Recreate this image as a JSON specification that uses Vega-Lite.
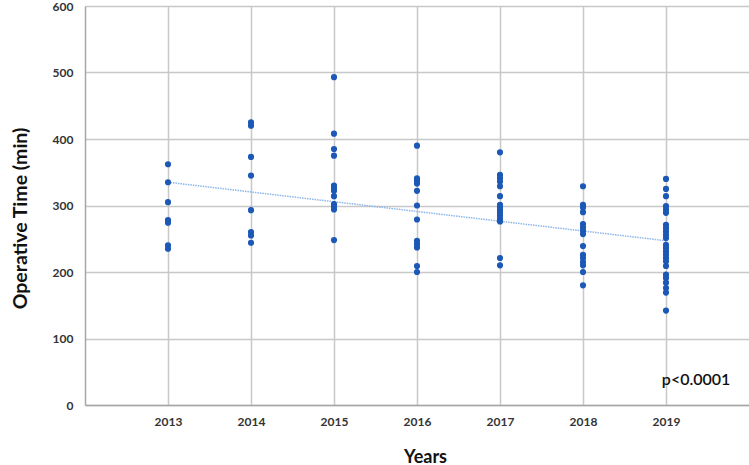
{
  "$schema": "https://vega.github.io/schema/vega-lite/v6.json",
  "width": 664,
  "height": 399,
  "autosize": "none",
  "padding": {"left": 85, "top": 6, "right": 0, "bottom": 60},
  "background": "white",
  "config": {
    "view": {"stroke": null},
    "font": "Lato",
    "axis": {
      "gridColor": "#c8c8c8",
      "gridWidth": 1.5,
      "domainColor": "#a6a6a6",
      "domainWidth": 1.5,
      "ticks": false,
      "labelColor": "#333333",
      "labelFont": "Lato",
      "labelFontSize": 12,
      "labelFontWeight": "bold",
      "titleFont": "Lato",
      "titleFontSize": 18,
      "titleFontWeight": "bold",
      "titleColor": "#111111"
    }
  },
  "datasets": {
    "points": [
      {"year": 2013, "time": 362}, {"year": 2013, "time": 335}, {"year": 2013, "time": 305}, {"year": 2013, "time": 278}, {"year": 2013, "time": 274}, {"year": 2013, "time": 240}, {"year": 2013, "time": 235},
      {"year": 2014, "time": 425}, {"year": 2014, "time": 420}, {"year": 2014, "time": 373}, {"year": 2014, "time": 345}, {"year": 2014, "time": 293}, {"year": 2014, "time": 260}, {"year": 2014, "time": 255}, {"year": 2014, "time": 244},
      {"year": 2015, "time": 493}, {"year": 2015, "time": 408}, {"year": 2015, "time": 385}, {"year": 2015, "time": 375}, {"year": 2015, "time": 330}, {"year": 2015, "time": 326}, {"year": 2015, "time": 322}, {"year": 2015, "time": 314}, {"year": 2015, "time": 302}, {"year": 2015, "time": 298}, {"year": 2015, "time": 294}, {"year": 2015, "time": 248},
      {"year": 2016, "time": 390}, {"year": 2016, "time": 341}, {"year": 2016, "time": 337}, {"year": 2016, "time": 333}, {"year": 2016, "time": 322}, {"year": 2016, "time": 300}, {"year": 2016, "time": 279}, {"year": 2016, "time": 247}, {"year": 2016, "time": 242}, {"year": 2016, "time": 237}, {"year": 2016, "time": 209}, {"year": 2016, "time": 200},
      {"year": 2017, "time": 380}, {"year": 2017, "time": 346}, {"year": 2017, "time": 341}, {"year": 2017, "time": 336}, {"year": 2017, "time": 329}, {"year": 2017, "time": 314}, {"year": 2017, "time": 301}, {"year": 2017, "time": 297}, {"year": 2017, "time": 293}, {"year": 2017, "time": 289}, {"year": 2017, "time": 285}, {"year": 2017, "time": 280}, {"year": 2017, "time": 276}, {"year": 2017, "time": 221}, {"year": 2017, "time": 210},
      {"year": 2018, "time": 329}, {"year": 2018, "time": 301}, {"year": 2018, "time": 297}, {"year": 2018, "time": 290}, {"year": 2018, "time": 272}, {"year": 2018, "time": 267}, {"year": 2018, "time": 262}, {"year": 2018, "time": 257}, {"year": 2018, "time": 239}, {"year": 2018, "time": 226}, {"year": 2018, "time": 221}, {"year": 2018, "time": 215}, {"year": 2018, "time": 210}, {"year": 2018, "time": 200}, {"year": 2018, "time": 180},
      {"year": 2019, "time": 340}, {"year": 2019, "time": 325}, {"year": 2019, "time": 314}, {"year": 2019, "time": 299}, {"year": 2019, "time": 294}, {"year": 2019, "time": 289}, {"year": 2019, "time": 271}, {"year": 2019, "time": 266}, {"year": 2019, "time": 261}, {"year": 2019, "time": 256}, {"year": 2019, "time": 251}, {"year": 2019, "time": 241}, {"year": 2019, "time": 236}, {"year": 2019, "time": 231}, {"year": 2019, "time": 226}, {"year": 2019, "time": 221}, {"year": 2019, "time": 216}, {"year": 2019, "time": 209}, {"year": 2019, "time": 196}, {"year": 2019, "time": 191}, {"year": 2019, "time": 184}, {"year": 2019, "time": 176}, {"year": 2019, "time": 169}, {"year": 2019, "time": 142}
    ],
    "fit": [
      {"year": 2013, "time": 335},
      {"year": 2019, "time": 247}
    ],
    "note": [
      {"year": 2018.95, "time": 30, "label": "p<0.0001"}
    ]
  },
  "layer": [
    {
      "data": {"name": "fit"},
      "mark": {"type": "line", "color": "#8db6ea", "strokeWidth": 1.5, "strokeDash": [1.5, 1]},
      "encoding": {
        "x": {
          "field": "year", "type": "quantitative",
          "scale": {"domain": [2012, 2020], "nice": false, "zero": false},
          "axis": {
            "values": [2013, 2014, 2015, 2016, 2017, 2018, 2019],
            "format": "d",
            "title": "Years",
            "labelPadding": 11,
            "titleX": 340,
            "titleY": 57,
            "titleBaseline": "alphabetic"
          }
        },
        "y": {
          "field": "time", "type": "quantitative",
          "scale": {"domain": [0, 600], "nice": false},
          "axis": {
            "values": [0, 100, 200, 300, 400, 500, 600],
            "title": "Operative Time (min)",
            "titleFontSize": 19.5,
            "labelPadding": 12,
            "titleX": -65,
            "titleY": 212,
            "titleBaseline": "middle"
          }
        }
      }
    },
    {
      "data": {"name": "points"},
      "mark": {"type": "circle", "color": "#1c58b5", "size": 38, "opacity": 1},
      "encoding": {
        "x": {"field": "year", "type": "quantitative"},
        "y": {"field": "time", "type": "quantitative"}
      }
    },
    {
      "data": {"name": "note"},
      "mark": {"type": "text", "align": "left", "baseline": "alphabetic", "fontSize": 16, "font": "Lato", "fontWeight": 600, "color": "#111111"},
      "encoding": {
        "x": {"field": "year", "type": "quantitative"},
        "y": {"field": "time", "type": "quantitative"},
        "text": {"field": "label"}
      }
    }
  ]
}
